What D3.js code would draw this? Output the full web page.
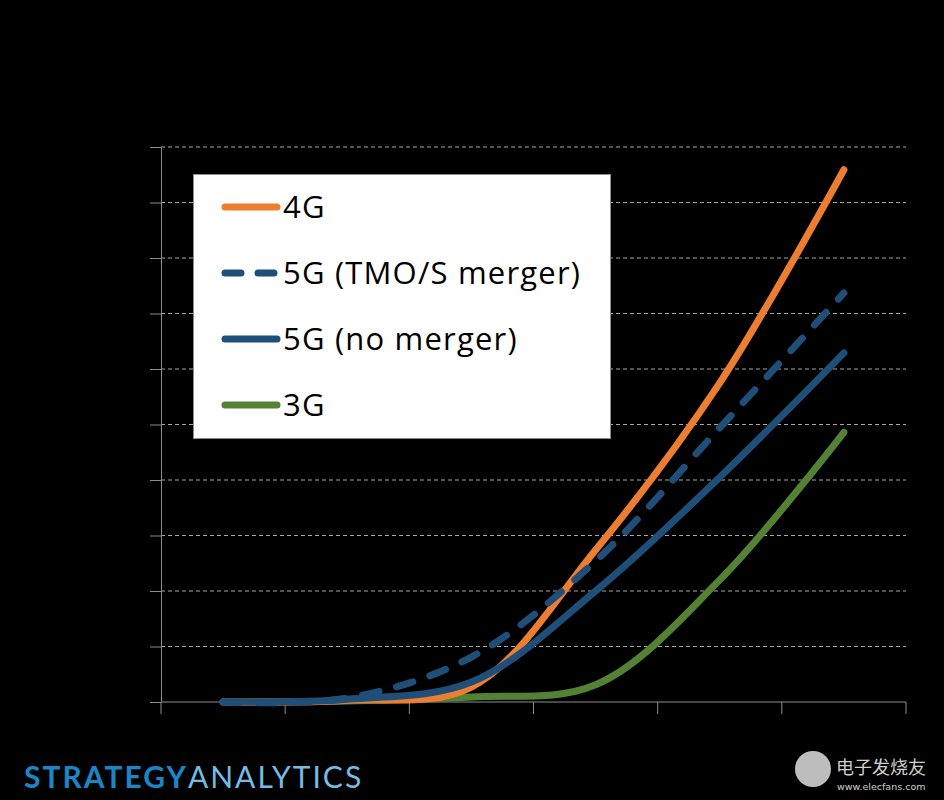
<!DOCTYPE html>
<html>
<head>
<meta charset="utf-8">
<script src="https://cdn.jsdelivr.net/npm/d3@7"></script>
<style>
  body { margin: 0; background: #000; }
  svg { display: block; }
</style>
</head>
<body>
<svg id="chart"></svg>
<script>
// periods along the x axis (no labels are shown in the chart)
const periods = ["1", "2", "3", "4", "5", "6"];
const yTicks = [0, 10, 20, 30, 40, 50, 60, 70, 80, 90, 100];

const series4G = [0, 0.3, 2.7, 27.4, 57.5, 95.9];
const series5GMerger = [0, 0.7, 8.1, 25.4, 49.4, 73.7];
const series5GNoMerger = [0, 0.5, 3.6, 20.0, 40.5, 62.9];
const series3G = [0, 0.2, 0.9, 3.1, 22.0, 48.6];

const seriesNames = ["4G", "5G (TMO/S merger)", "5G (no merger)", "3G"];
const seriesColors = ["#ED7D31", "#1F4E79", "#1F4E79", "#548235"];
const seriesDashed = [false, true, false, false];

const width = 944, height = 800;
const margin = {top: 147, right: 38, bottom: 98, left: 161};

const svg = d3.select("#chart")
    .attr("width", width)
    .attr("height", height);

svg.append("rect")
    .attr("width", width)
    .attr("height", height)
    .attr("fill", "#000");

const x = d3.scaleBand()
    .domain(periods)
    .range([margin.left, width - margin.right]);

const y = d3.scaleLinear()
    .domain([0, 100])
    .range([height - margin.bottom, margin.top]);

// gridlines
svg.append("g")
    .selectAll("line")
    .data(yTicks.slice(1))
    .join("line")
    .attr("x1", margin.left)
    .attr("x2", width - margin.right)
    .attr("y1", d => y(d))
    .attr("y2", d => y(d))
    .attr("stroke", "#a6a6a6")
    .attr("stroke-width", 1)
    .attr("stroke-dasharray", "4,3");

// y axis
const yAxis = svg.append("g")
    .attr("transform", `translate(${margin.left},0)`)
    .call(d3.axisLeft(y).tickValues(yTicks).tickSize(11).tickFormat(""));
yAxis.selectAll("line, path").attr("stroke", "#8c8c8c");

// x axis: ticks on band boundaries
const bounds = periods.map(p => x(p)).concat([x(periods[periods.length - 1]) + x.bandwidth()]);
const xAxis = svg.append("g")
    .attr("transform", `translate(0,${y(0)})`);
xAxis.append("line")
    .attr("x1", margin.left)
    .attr("x2", width - margin.right)
    .attr("stroke", "#8c8c8c");
xAxis.selectAll(".tick")
    .data(bounds)
    .join("line")
    .attr("class", "tick")
    .attr("x1", d => d)
    .attr("x2", d => d)
    .attr("y1", 0)
    .attr("y2", 12)
    .attr("stroke", "#8c8c8c");

// lines
const allSeries = [series4G, series5GMerger, series5GNoMerger, series3G];
const line = d3.line()
    .x((d, i) => x(periods[i]) + x.bandwidth() / 2)
    .y(d => y(d))
    .curve(d3.curveCatmullRom.alpha(0.5));

// draw order: 3G at back, then 4G, solid 5G, dashed 5G on top
const drawOrder = [3, 0, 2, 1];
drawOrder.forEach(k => {
    svg.append("path")
        .datum(allSeries[k])
        .attr("d", line)
        .attr("fill", "none")
        .attr("stroke", seriesColors[k])
        .attr("stroke-width", 7)
        .attr("stroke-linecap", "round")
        .attr("stroke-linejoin", "round")
        .attr("stroke-dasharray", seriesDashed[k] ? "17,18" : null);
});

// legend
const legend = svg.append("g");
legend.append("rect")
    .attr("x", 193.5)
    .attr("y", 174.5)
    .attr("width", 417)
    .attr("height", 264)
    .attr("fill", "#fff")
    .attr("stroke", "#8c8c8c")
    .attr("stroke-width", 1);

const legendY = [207, 273, 339, 405];
seriesNames.forEach((name, k) => {
    legend.append("line")
        .attr("x1", 225)
        .attr("x2", 277)
        .attr("y1", legendY[k])
        .attr("y2", legendY[k])
        .attr("stroke", seriesColors[k])
        .attr("stroke-width", 7)
        .attr("stroke-linecap", "round")
        .attr("stroke-dasharray", seriesDashed[k] ? "16,17" : null);
    legend.append("text")
        .attr("x", 283)
        .attr("y", legendY[k] + 11)
        .attr("font-family", "Open Sans, sans-serif")
        .attr("font-size", 31)
        .attr("letter-spacing", 1.2)
        .attr("fill", "#000")
        .text(name);
});

// brand footer
const brand = svg.append("text")
    .attr("x", 24)
    .attr("y", 788)
    .attr("font-family", "Lato, sans-serif")
    .attr("font-size", 30)
    .attr("letter-spacing", 2);
brand.append("tspan").attr("fill", "#1A86C8").attr("font-weight", 700).text("STRATEGY");
brand.append("tspan").attr("fill", "#74BCE3").attr("font-weight", 400).text("ANALYTICS");

// watermark
const wm = svg.append("g").attr("fill", "#cfcfcf");
wm.append("circle").attr("cx", 813).attr("cy", 769).attr("r", 18).attr("fill", "#bdbdbd");
wm.append("text")
    .attr("x", 836).attr("y", 774)
    .attr("font-family", "Noto Sans CJK SC, sans-serif")
    .attr("font-size", 18)
    .text("电子发烧友");
wm.append("text")
    .attr("x", 837).attr("y", 790)
    .attr("font-family", "DejaVu Sans, sans-serif")
    .attr("font-size", 9.5)
    .text("www.elecfans.com");
</script>
</body>
</html>
